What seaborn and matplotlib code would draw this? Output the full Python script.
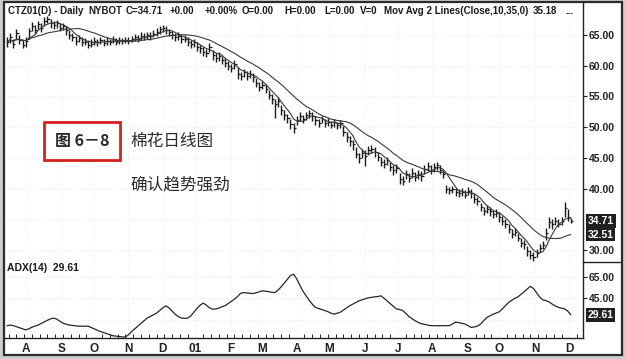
import numpy as np
import pandas as pd
import matplotlib
matplotlib.use("Agg")
import matplotlib.pyplot as plt
import matplotlib.transforms as mtransforms
from matplotlib.patches import Rectangle
from matplotlib.lines import Line2D
import seaborn as sns

# ---------------- data (one bar = 2 trading sessions) ----------------
start_date = "2000-07-14"
sessions_per_bar = 2
fast_days, slow_days = 10, 35

close = [63.8, 64.6, 63.5, 65.3, 64.1, 63.4, 64.0, 65.6, 66.5, 65.8,
         66.8, 66.2, 67.3, 67.6, 66.9, 66.6, 66.9, 66.2, 66.5, 65.8,
         65.0, 64.6, 64.0, 64.5, 63.8, 63.9, 63.4, 63.6, 64.0, 63.8,
         64.2, 63.7, 64.0, 63.9, 64.3, 63.9, 64.1, 64.0, 64.2, 64.0,
         64.3, 64.6, 64.4, 64.9, 64.7, 65.0, 64.8, 65.2, 65.5, 65.9,
         66.2, 65.8, 65.4, 65.0, 64.7, 64.9, 64.3, 64.4, 63.9, 63.5,
         63.8, 63.0, 62.8, 62.3, 62.0, 63.0, 61.8, 61.3, 61.6, 60.9,
         60.5, 60.0, 59.6, 60.2, 58.6, 58.3, 58.9, 58.4, 58.7, 58.1,
         57.2, 56.6, 56.9, 56.2, 55.3, 54.6, 53.8, 54.2, 52.8, 52.0,
         51.5, 50.5, 49.8, 51.2, 51.8, 51.4, 51.9, 52.3, 51.8, 51.2,
         50.7, 51.3, 50.6, 50.9, 50.4, 50.8, 50.3, 50.6, 49.2, 48.4,
         47.8, 47.2, 45.6, 45.0, 45.8, 45.3, 46.2, 46.5, 46.0, 45.2,
         44.4, 44.0, 44.6, 43.5, 43.0, 43.4, 41.6, 41.3, 42.3, 41.8,
         42.6, 41.9, 42.3, 42.0, 43.2, 43.6, 43.0, 43.5, 43.8, 43.1,
         42.3, 40.0, 39.7, 39.9, 39.4, 39.2, 39.5, 39.0, 39.6, 39.2,
         38.3, 38.0, 37.0, 36.3, 36.7, 36.4, 35.8, 36.1, 35.3, 34.8,
         34.2, 33.4, 32.6, 32.9, 32.0, 31.14, 30.9, 29.8, 29.2, 28.8,
         29.5, 30.3, 30.8, 32.8, 34.6, 34.2, 34.8, 34.3, 34.7, 36.8,
         35.4, 34.71]

high = [64.7, 65.3, 64.4, 65.9, 65.0, 64.2, 64.6, 66.2, 67.1, 66.7,
        67.3, 67.0, 67.9, 68.1, 67.6, 67.2, 67.4, 66.9, 67.0, 66.4,
        65.8, 65.3, 64.8, 65.0, 64.6, 64.5, 64.2, 64.3, 64.6, 64.4,
        64.7, 64.4, 64.6, 64.4, 64.8, 64.5, 64.6, 64.5, 64.7, 64.6,
        64.9, 65.2, 65.0, 65.4, 65.3, 65.5, 65.4, 65.8, 66.1, 66.4,
        66.7, 66.4, 66.0, 65.6, 65.3, 65.4, 65.0, 65.0, 64.6, 64.2,
        64.4, 63.8, 63.4, 63.0, 62.7, 63.7, 62.6, 62.0, 62.2, 61.6,
        61.2, 60.8, 60.3, 60.9, 59.8, 59.0, 59.5, 59.2, 59.3, 58.8,
        58.0, 57.4, 57.5, 57.0, 56.0, 55.4, 54.6, 54.9, 53.6, 52.8,
        52.2, 51.4, 50.6, 51.8, 52.4, 52.0, 52.5, 52.8, 52.4, 51.8,
        51.4, 51.8, 51.3, 51.5, 51.0, 51.4, 50.9, 51.1, 50.2, 49.2,
        48.6, 47.9, 46.8, 45.8, 46.5, 46.2, 46.9, 47.1, 46.7, 46.0,
        45.2, 44.8, 45.2, 44.3, 43.8, 44.0, 42.6, 42.0, 43.0, 42.6,
        43.3, 42.7, 43.0, 42.8, 43.9, 44.3, 43.8, 44.2, 44.4, 43.9,
        43.0, 40.6, 40.3, 40.4, 40.1, 39.9, 40.1, 39.7, 40.3, 39.9,
        39.2, 38.7, 37.6, 37.0, 37.3, 37.0, 36.5, 36.7, 36.2, 35.5,
        35.0, 34.2, 33.4, 33.6, 32.8, 31.9, 31.6, 30.6, 30.0, 29.6,
        30.2, 31.0, 31.5, 33.6, 35.4, 35.0, 35.3, 35.0, 35.4, 37.8,
        36.6, 35.2]

low = [63.0, 63.7, 62.9, 64.2, 63.5, 62.8, 63.1, 64.3, 65.6, 65.2,
       65.9, 65.5, 66.5, 66.9, 66.2, 65.9, 66.2, 65.6, 65.8, 65.0,
       64.4, 64.0, 63.4, 63.8, 63.2, 63.3, 62.9, 63.0, 63.4, 63.2,
       63.5, 63.2, 63.4, 63.3, 63.7, 63.4, 63.5, 63.5, 63.7, 63.5,
       63.8, 64.0, 63.9, 64.2, 64.1, 64.4, 64.2, 64.6, 64.9, 65.2,
       65.5, 65.1, 64.8, 64.3, 64.0, 64.2, 63.7, 63.8, 63.2, 62.9,
       63.0, 62.4, 62.0, 61.5, 61.4, 62.2, 61.0, 60.6, 60.8, 60.2,
       59.8, 59.3, 58.9, 59.4, 57.9, 57.7, 58.1, 57.7, 58.0, 57.3,
       56.5, 55.9, 56.2, 55.5, 54.6, 53.8, 51.5, 53.3, 52.0, 51.2,
       50.6, 49.7, 49.0, 50.3, 51.0, 50.7, 51.2, 51.5, 51.0, 50.4,
       50.0, 50.6, 50.0, 50.2, 49.8, 50.1, 49.7, 49.9, 48.5, 47.6,
       47.0, 46.3, 44.9, 44.2, 45.0, 43.6, 45.4, 45.8, 45.2, 44.5,
       43.6, 43.3, 43.8, 42.8, 42.2, 42.6, 40.8, 40.6, 41.5, 41.0,
       41.8, 41.2, 41.6, 41.3, 42.4, 42.8, 42.3, 42.7, 43.0, 42.4,
       41.8, 39.3, 39.1, 39.2, 38.8, 38.6, 38.8, 38.4, 38.9, 38.5,
       37.6, 37.4, 36.3, 35.7, 36.0, 35.6, 35.2, 35.4, 34.6, 34.1,
       33.6, 32.7, 31.9, 32.2, 31.4, 30.5, 30.2, 29.1, 28.5, 28.2,
       28.9, 29.6, 30.2, 31.6, 33.6, 33.5, 34.0, 33.7, 34.0, 35.4,
       34.8, 34.4]

adx = [19.4, 20.0, 19.5, 18.5, 17.5, 16.5, 15.6, 16.5, 18.0, 19.0,
       20.0, 21.5, 23.0, 24.5, 25.8, 26.5, 25.5, 23.5, 21.8, 20.8,
       20.0, 19.6, 19.3, 19.0, 18.9, 18.9, 19.0, 17.8, 16.5, 15.2,
       14.0, 13.0, 12.0, 11.0, 10.1, 9.7, 9.3, 9.0, 8.9, 11.0,
       14.0, 16.5, 19.0, 21.5, 24.0, 26.5, 28.0, 29.5, 31.1, 33.5,
       36.0, 37.9, 36.0, 33.0, 30.0, 27.8, 26.5, 26.3, 26.5, 28.5,
       32.0, 35.5, 38.5, 40.4, 38.5, 36.0, 34.8, 35.0, 35.8, 37.0,
       38.0, 40.0, 42.0, 44.0, 46.5, 49.5, 50.2, 49.8, 49.5, 49.3,
       50.0, 51.0, 51.8, 51.5, 51.0, 50.5, 50.2, 52.5, 55.5, 59.0,
       62.5, 66.0, 67.2, 63.0, 57.0, 51.5, 47.2, 43.0, 39.5, 36.4,
       35.5, 34.5, 33.5, 32.5, 31.0, 30.2, 31.0, 32.0, 34.0, 36.0,
       37.9, 39.5, 41.0, 42.5, 43.5, 44.5, 45.3, 45.8, 46.2, 46.5,
       47.2, 45.0, 42.5, 40.0, 37.5, 35.0, 34.5, 33.5, 31.0, 28.0,
       26.0, 24.0, 22.5, 21.3, 20.6, 20.0, 19.5, 19.4, 19.4, 19.4,
       19.4, 19.4, 19.5, 21.0, 22.8, 22.3, 21.6, 21.0, 19.5, 17.8,
       18.3, 19.0, 21.0, 24.0, 27.0, 28.5, 30.0, 31.2, 32.3, 35.0,
       38.0, 41.0, 43.0, 44.8, 46.2, 48.5, 51.0, 53.5, 56.0, 54.0,
       50.0, 46.0, 43.4, 42.8, 41.5, 39.5, 37.8, 36.5, 35.8, 35.0,
       33.0, 29.61]

price_ticks = [30, 40, 45, 50, 55, 60, 65]
adx_ticks = [45, 65]
month_letters = ["01", "F", "M", "A", "M", "J", "J", "A", "S", "O", "N", "D"]

# ---------------- derived ----------------
n = len(close)
df = pd.DataFrame({"x": np.arange(n), "close": close, "high": high,
                   "low": low, "adx": adx})
df["ma_fast"] = df["close"].rolling(fast_days // sessions_per_bar, min_periods=1).mean()
df["ma_slow"] = df["close"].rolling(slow_days // sessions_per_bar, min_periods=1).mean()

days = pd.bdate_range(start_date, periods=n * sessions_per_bar + 4)
month_pos, month_lab = [], []
for k in range(1, len(days)):
    if days[k].month != days[k - 1].month:
        month_pos.append(k / sessions_per_bar)
        month_lab.append(month_letters[days[k].month - 1])
week_pos = [k / sessions_per_bar for k in range(1, len(days)) if days[k].weekday() == 0]

last_close = df["close"].iloc[-1]
last_fast = df["ma_fast"].iloc[-1]
last_slow = df["ma_slow"].iloc[-1]
last_adx = df["adx"].iloc[-1]

# ---------------- figure ----------------
W, H = 625, 359
sns.set_theme(style="white")
plt.rcParams["font.family"] = ["Liberation Sans", "DejaVu Sans"]

fig = plt.figure(figsize=(W / 100, H / 100), dpi=100)
fig.patch.set_facecolor("#cdcdcd")
fig.add_artist(Rectangle((4 / W, 1 - 355 / H), 618 / W, 353 / H, transform=fig.transFigure,
                         facecolor="white", edgecolor="#2b2b2b", lw=1.6, zorder=0))

ax1 = fig.add_axes([5 / W, 1 - 262 / H, 578 / W, 259 / H])
ax2 = fig.add_axes([5 / W, 1 - 338 / H, 578 / W, 76 / H], sharex=ax1)
for ax in (ax1, ax2):
    ax.set_facecolor("none")
    for s in ("left", "top", "bottom"):
        ax.spines[s].set_visible(False)
    ax.spines["right"].set_visible(True)
    ax.spines["right"].set_color("#222222")
    ax.spines["right"].set_linewidth(1.0)
ax2.spines["bottom"].set_visible(True)
ax2.spines["bottom"].set_color("#222222")
ax2.spines["bottom"].set_linewidth(1.0)

xmin, xmax = -0.64, 184.9
ax1.set_xlim(xmin, xmax)

# faint grid
for p in price_ticks + [35]:
    ax1.axhline(p, color="#e4e4e4", lw=0.6, ls=(0, (1, 2)), zorder=0)
for p in adx_ticks + [25]:
    ax2.axhline(p, color="#e4e4e4", lw=0.6, ls=(0, (1, 2)), zorder=0)
for mp in month_pos:
    if xmin < mp < xmax:
        ax1.axvline(mp, color="#ececec", lw=0.6, ls=(0, (1, 2)), zorder=0)
        ax2.axvline(mp, color="#ececec", lw=0.6, ls=(0, (1, 2)), zorder=0)

# price bars
ax1.vlines(df["x"], df["low"], df["high"], color="#1a1a1a", lw=1.0, zorder=3)
ax1.hlines(df["close"], df["x"], df["x"] + 0.7, color="#1a1a1a", lw=0.9, zorder=3)
sns.lineplot(data=df, x="x", y="ma_fast", ax=ax1, color="#3a3a3a", lw=0.8, zorder=4)
sns.lineplot(data=df, x="x", y="ma_slow", ax=ax1, color="#3a3a3a", lw=0.8, zorder=4)
ax1.set_ylim(28.05, 70.2)
ax1.set_yticks(price_ticks)
ax1.set_yticklabels([f"{t:.2f}" for t in price_ticks])
ax1.set_xlabel("")
ax1.set_ylabel("")
ax1.tick_params(axis="y", which="both", left=False, labelleft=False, right=True,
                labelright=True, direction="out", length=3, width=0.8, pad=1,
                labelsize=7.5, colors="#222222")
ax1.tick_params(axis="x", bottom=False, labelbottom=False)
for lab in ax1.get_yticklabels():
    lab.set_fontweight("bold")

# ADX
sns.lineplot(data=df, x="x", y="adx", ax=ax2, color="#262626", lw=0.9)
ax2.set_ylim(8.0, 78.6)
ax2.set_yticks(adx_ticks)
ax2.set_yticklabels([f"{t:.2f}" for t in adx_ticks])
ax2.set_xlabel("")
ax2.set_ylabel("")
ax2.tick_params(axis="y", left=False, labelleft=False, right=True, labelright=True,
                direction="out", length=3, width=0.8, pad=1, labelsize=7.5, colors="#222222")
for lab in ax2.get_yticklabels():
    lab.set_fontweight("bold")
mp_in = [(p, l) for p, l in zip(month_pos, month_lab) if xmin < p < xmax]
ax2.set_xticks([p for p, _ in mp_in])
ax2.set_xticklabels([l for _, l in mp_in])
ax2.set_xticks([p for p in week_pos if xmin < p < xmax], minor=True)
ax2.tick_params(axis="x", which="major", direction="inout", length=5, width=0.8,
                labelsize=8.5, pad=1, colors="#222222")
ax2.tick_params(axis="x", which="minor", direction="in", length=3, width=0.7,
                colors="#222222", bottom=True)
for lab in ax2.get_xticklabels():
    lab.set_fontweight("bold")
ax2.set_xlim(xmin, xmax)

# value boxes on right axis
tr1 = mtransforms.blended_transform_factory(ax1.transAxes, ax1.transData)
tr2 = mtransforms.blended_transform_factory(ax2.transAxes, ax2.transData)
box = dict(facecolor="#202020", edgecolor="none", pad=1.3)
ax1.text(1.008, last_close, f"{last_close:.2f}", transform=tr1,
         color="white", fontsize=7.5, fontweight="bold", va="center", ha="left", bbox=box)
ax1.text(1.008, last_slow, f"{last_slow:.2f}", transform=tr1,
         color="white", fontsize=7.5, fontweight="bold", va="center", ha="left", bbox=box)
ax2.text(1.008, last_adx, f"{last_adx:.2f}", transform=tr2,
         color="white", fontsize=7.5, fontweight="bold", va="center", ha="left", bbox=box)

# separator on the right-hand label column
fig.add_artist(Line2D([583 / W, 620 / W], [1 - 262 / H, 1 - 262 / H], transform=fig.transFigure,
                      color="#222222", lw=1.0))

# header pieces (x positions in pixels)
header_parts = [
    (8, "CTZ01(D) - Daily"),
    (88, "NYBOT"),
    (126, f"C={last_close:.2f}"),
    (170, "+0.00"),
    (205, "+0.00%"),
    (242, "O=0.00"),
    (284, "H=0.00"),
    (324, "L=0.00"),
    (360, "V=0"),
    (384, "Mov Avg 2 Lines(Close,10,35,0)"),
    (533, f"{last_fast:.2f}"),
    (565, "..."),
]
for px, txt in header_parts:
    fig.text(px / W, 1 - 11 / H, txt, fontsize=7.0, fontweight="bold", color="#1a1a1a",
             va="center", ha="left")
fig.text(7 / W, 1 - 268 / H, f"ADX(14)  {last_adx:.2f}", fontsize=7.5,
         fontweight="bold", color="#1a1a1a", va="center", ha="left")

# Chinese annotation
cjk = ["Noto Sans CJK SC", "DejaVu Sans"]
fig.add_artist(Rectangle((44 / W, 1 - 160 / H), 76 / W, 38 / H, transform=fig.transFigure,
                         facecolor="white", edgecolor="#d62020", lw=2.0, zorder=5))
fig.text(82 / W, 1 - 141 / H, "图 6－8", family=cjk, fontsize=11.5, fontweight="bold",
         color="#2a2a2a", va="center", ha="center", zorder=6)
fig.text(130 / W, 1 - 141 / H, "棉花日线图", family=cjk, fontsize=12,
         color="#2a2a2a", va="center", ha="left", zorder=6)
fig.text(130 / W, 1 - 185 / H, "确认趋势强劲", family=cjk, fontsize=12,
         color="#2a2a2a", va="center", ha="left", zorder=6)

fig.savefig("out.png", dpi=100, facecolor=fig.get_facecolor())
